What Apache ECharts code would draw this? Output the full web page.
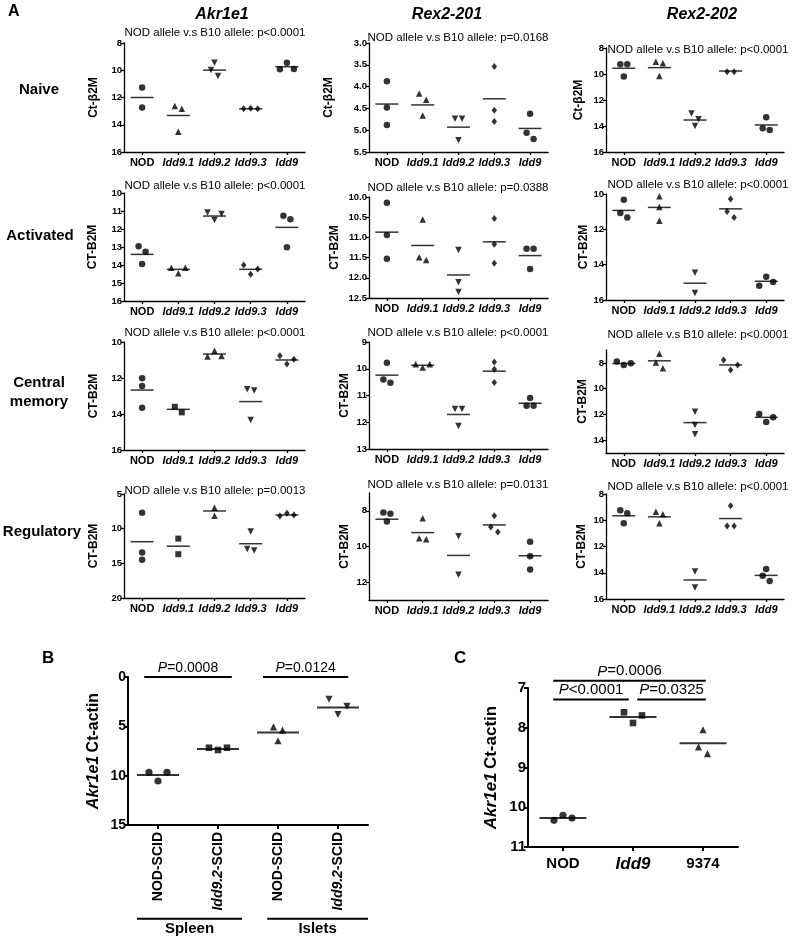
<!DOCTYPE html>
<html><head><meta charset="utf-8">
<script src="https://cdn.jsdelivr.net/npm/echarts@6/dist/echarts.min.js"></script>
<style>html,body{margin:0;padding:0;background:#fff}#c{width:793px;height:937px}</style>
</head><body><div id="c"></div><script>
const FF = '"Liberation Sans", Arial, Helvetica, sans-serif';

// ---------- categories ----------
const groupsA = ['NOD', 'Idd9.1', 'Idd9.2', 'Idd9.3', 'Idd9'];
const genesA = ['Akr1e1', 'Rex2-201', 'Rex2-202'];
const cellTypesA = ['Naive', 'Activated', 'Central\nmemory', 'Regulatory'];
const groupsB = ['NOD-SCID', 'Idd9.2-SCID', 'NOD-SCID', 'Idd9.2-SCID'];
const tissuesB = ['Spleen', 'Islets'];
const groupsC = ['NOD', 'Idd9', '9374'];

// ---------- Panel A values (Ct - B2M), one array per group ----------
const akr1e1_naive = [[11.26, 12.73], [12.63, 12.83, 14.52], [9.45, 9.99, 10.43], [12.78, 12.82, 12.82], [9.45, 9.9, 9.92]];
const akr1e1_naive_mean = [12.0, 13.32, 9.99, 12.83, 9.74];
const rex201_naive = [[3.88, 4.48, 4.88], [4.16, 4.30, 4.66], [4.74, 4.74, 5.23], [3.54, 4.54, 4.80], [4.62, 5.06, 5.20]];
const rex201_naive_mean = [4.40, 4.42, 4.93, 4.28, 4.96];
const rex202_naive = [[9.25, 9.25, 10.2], [9.05, 9.18, 10.15], [13.03, 13.49, 14.0], [9.82, 9.82], [13.33, 14.18, 14.31]];
const rex202_naive_mean = [9.56, 9.51, 13.54, 9.77, 13.92];

const akr1e1_act = [[12.96, 13.26, 13.94], [14.15, 14.15, 14.46], [11.09, 11.17, 11.5], [14.0, 14.22, 14.52], [11.26, 11.46, 13.02]];
const akr1e1_act_mean = [13.41, 14.24, 11.28, 14.24, 11.91];
const rex201_act = [[10.14, 10.94, 11.53], [10.56, 11.49, 11.56], [11.31, 12.11, 12.35], [10.53, 11.17, 11.64], [11.28, 11.28, 11.78]];
const rex201_act_mean = [10.87, 11.2, 11.93, 11.11, 11.45];
const rex202_act = [[10.32, 11.08, 11.33], [10.13, 10.74, 11.52], [14.46, 15.6], [10.28, 10.99, 11.33], [14.69, 14.98, 15.2]];
const rex202_act_mean = [10.93, 10.76, 15.05, 10.84, 14.94];

const akr1e1_cm = [[12.02, 12.44, 13.65], [13.6, 13.91], [10.48, 10.78, 10.81], [12.63, 12.7, 14.33], [10.76, 10.96, 11.22]];
const akr1e1_cm_mean = [12.67, 13.74, 10.67, 13.31, 11.0];
const rex201_cm = [[9.78, 10.4, 10.52], [9.83, 9.83, 9.95], [11.5, 11.5, 12.14], [9.75, 10.02, 10.51], [11.09, 11.38, 11.38]];
const rex201_cm_mean = [10.24, 9.87, 11.71, 10.09, 11.29];
const rex202_cm = [[7.9, 8.03, 8.16], [7.3, 7.98, 8.41], [11.79, 12.82, 13.55], [7.77, 8.16, 8.55], [11.97, 12.23, 12.6]];
const rex202_cm_mean = [8.05, 7.84, 12.64, 8.16, 12.23];

const akr1e1_reg = [[7.69, 13.45, 14.5], [11.43, 13.68], [6.97, 8.12], [10.42, 12.95, 13.15], [7.77, 8.02, 8.16]];
const akr1e1_reg_mean = [11.88, 12.53, 7.45, 12.17, 8.02];
const rex201_reg = [[8.09, 8.17, 8.6], [8.41, 9.54, 9.6], [9.42, 11.58], [8.28, 8.9, 9.18], [9.73, 10.54, 11.29]];
const rex201_reg_mean = [8.47, 9.22, 10.5, 8.79, 10.52];
const rex202_reg = [[9.23, 9.46, 10.23], [9.36, 9.54, 10.23], [13.9, 15.13], [8.9, 10.44, 10.44], [13.72, 14.23, 14.62]];
const rex202_reg_mean = [9.66, 9.74, 14.55, 9.87, 14.2];

// p-values (row-major)
const pValuesA = ['p<0.0001', 'p=0.0168', 'p<0.0001',
                  'p<0.0001', 'p=0.0388', 'p<0.0001',
                  'p<0.0001', 'p<0.0001', 'p<0.0001',
                  'p=0.0013', 'p=0.0131', 'p<0.0001'];

// tick labels
const akr1e1_naive_ticks = [8, 10, 12, 14, 16];
const rex201_naive_ticks = [3.0, 3.5, 4.0, 4.5, 5.0, 5.5];
const rex202_naive_ticks = [8, 10, 12, 14, 16];
const akr1e1_act_ticks = [10, 11, 12, 13, 14, 15, 16];
const rex201_act_ticks = [10.0, 10.5, 11.0, 11.5, 12.0, 12.5];
const rex202_act_ticks = [10, 12, 14, 16];
const akr1e1_cm_ticks = [10, 12, 14, 16];
const rex201_cm_ticks = [9, 10, 11, 12, 13];
const rex202_cm_ticks = [8, 10, 12, 14];
const akr1e1_reg_ticks = [5, 10, 15, 20];
const rex201_reg_ticks = [8, 10, 12];
const rex202_reg_ticks = [8, 10, 12, 14, 16];

// ---------- Panel B (Akr1e1 Ct-actin) ----------
const valuesB = [[9.66, 9.66, 10.54], [7.17, 7.4, 7.17], [5.05, 5.38, 6.46], [2.25, 2.96, 3.8]];
const meansB = [9.93, 7.3, 5.62, 3.09];
const ticksB = [0, 5, 10, 15];
const pValuesB = ['=0.0008', '=0.0124'];

// ---------- Panel C (Akr1e1 Ct-actin) ----------
const valuesC = [[10.2, 10.33, 10.27], [7.88, 7.61, 7.69], [8.05, 8.65, 8.48]];
const meansC = [10.27, 7.73, 8.39];
const ticksC = [7, 8, 9, 10, 11];
const pValuesC = ['=0.0006', '<0.0001', '=0.0325'];

// ================= layout / styling =================
const SYM = {
  circle: {symbol: 'circle', size: 6.5, rot: 0},
  tri: {symbol: 'triangle', size: 6.5, rot: 0},
  inv: {symbol: 'triangle', size: 6.5, rot: 180},
  dia: {symbol: 'diamond', size: [5.5, 7], rot: 0},
  sq: {symbol: 'rect', size: 6, rot: 0}
};
const symStd = ['circle', 'tri', 'inv', 'dia', 'circle'];
const symAlt = ['circle', 'sq', 'tri', 'inv', 'dia'];

const COLS = [{left: 124, width: 181, titleX: 215}, {left: 369, width: 179, titleX: 458}, {left: 606, width: 178, titleX: 698}];
const A_PLOTS = [
  {vals: akr1e1_naive, means: akr1e1_naive_mean, ticks: akr1e1_naive_ticks, min: 8, max: 16, top: 43, bottom: 152, col: 0, titleY: 33, gap: 24, yname: 'Ct-β2M', sym: symStd},
  {vals: rex201_naive, means: rex201_naive_mean, ticks: rex201_naive_ticks, min: 3, max: 5.5, top: 43, bottom: 152, col: 1, titleY: 38, gap: 34, yname: 'Ct-β2M', sym: symStd, dec: 1},
  {vals: rex202_naive, means: rex202_naive_mean, ticks: rex202_naive_ticks, min: 8, max: 16, top: 48, bottom: 152, col: 2, titleY: 50, gap: 21, yname: 'Ct-β2M', sym: symStd},
  {vals: akr1e1_act, means: akr1e1_act_mean, ticks: akr1e1_act_ticks, min: 10, max: 16, top: 193, bottom: 301, col: 0, titleY: 186, gap: 25, yname: 'CT-B2M', sym: symStd},
  {vals: rex201_act, means: rex201_act_mean, ticks: rex201_act_ticks, min: 10, max: 12.5, top: 197, bottom: 298, col: 1, titleY: 188, gap: 28, yname: 'CT-B2M', sym: symStd, dec: 1},
  {vals: rex202_act, means: rex202_act_mean, ticks: rex202_act_ticks, min: 10, max: 16, top: 194, bottom: 300, col: 2, titleY: 185, gap: 15, yname: 'CT-B2M', sym: symStd},
  {vals: akr1e1_cm, means: akr1e1_cm_mean, ticks: akr1e1_cm_ticks, min: 10, max: 16, top: 342, bottom: 450, col: 0, titleY: 333, gap: 24, yname: 'CT-B2M', sym: symAlt},
  {vals: rex201_cm, means: rex201_cm_mean, ticks: rex201_cm_ticks, min: 9, max: 13, top: 342, bottom: 449, col: 1, titleY: 333, gap: 18, yname: 'CT-B2M', sym: symStd},
  {vals: rex202_cm, means: rex202_cm_mean, ticks: rex202_cm_ticks, min: 7, max: 15, top: 350, bottom: 453, col: 2, titleY: 335, gap: 17, yname: 'CT-B2M', sym: symStd},
  {vals: akr1e1_reg, means: akr1e1_reg_mean, ticks: akr1e1_reg_ticks, min: 5, max: 20, top: 494, bottom: 598, col: 0, titleY: 491, gap: 24, yname: 'CT-B2M', sym: symAlt},
  {vals: rex201_reg, means: rex201_reg_mean, ticks: rex201_reg_ticks, min: 7, max: 13, top: 493, bottom: 600, col: 1, titleY: 485, gap: 18, yname: 'CT-B2M', sym: symStd},
  {vals: rex202_reg, means: rex202_reg_mean, ticks: rex202_reg_ticks, min: 8, max: 16, top: 494, bottom: 599, col: 2, titleY: 487, gap: 18, yname: 'CT-B2M', sym: symStd}
];

const grids = [], xAxes = [], yAxes = [], series = [], graphics = [];

function swarm(vals, pxPerUnit, T, step) {
  const idx = vals.map((v, i) => i).sort((a, b) => vals[a] - vals[b]);
  const clusters = [];
  let cur = [idx[0]];
  for (let k = 1; k < idx.length; k++) {
    if ((vals[idx[k]] - vals[idx[k - 1]]) * pxPerUnit < T) cur.push(idx[k]);
    else { clusters.push(cur); cur = [idx[k]]; }
  }
  clusters.push(cur);
  const off = new Array(vals.length).fill(0);
  clusters.forEach(c => {
    if (c.length === 2) { off[c[0]] = -step / 2; off[c[1]] = step / 2; }
    else if (c.length === 3) {
      const a = vals[c[0]], b = vals[c[1]], d = vals[c[2]];
      if (b - a <= d - b) { off[c[0]] = -step; off[c[1]] = step; off[c[2]] = 0; }
      else { off[c[0]] = 0; off[c[1]] = step; off[c[2]] = -step; }
    } else if (c.length > 3) {
      c.forEach((i, j) => off[i] = (j - (c.length - 1) / 2) * step);
    }
  });
  return off;
}

function addPlot(o) {
  const gi = grids.length;
  const n = o.cats.length;
  const idxs = o.cats.map((_, i) => i);
  grids.push({left: o.left, top: o.top, width: o.width, height: o.bottom - o.top, containLabel: false});
  xAxes.push({
    gridIndex: gi, type: 'value', min: -0.5, max: n - 0.5,
    splitLine: {show: false},
    axisLine: {show: true, onZero: false, lineStyle: {color: '#000', width: o.lw}},
    axisTick: {show: true, customValues: idxs, length: o.tickLen, lineStyle: {color: '#000', width: o.lw}},
    axisLabel: {customValues: idxs, formatter: v => o.catFmt(o.cats[Math.round(v)]), rich: o.rich,
      margin: o.xMargin, rotate: o.xRot || 0, color: '#000'}
  });
  yAxes.push({
    gridIndex: gi, type: 'value', inverse: true, min: o.min, max: o.max,
    splitLine: {show: false},
    axisLine: {show: true, onZero: false, lineStyle: {color: '#000', width: o.lw}},
    axisTick: {show: true, customValues: o.ticks, length: o.tickLen, lineStyle: {color: '#000', width: o.lw}},
    axisLabel: {customValues: o.ticks, formatter: v => o.dec ? v.toFixed(o.dec) : String(v),
      color: '#000', fontWeight: 'bold', fontSize: o.tickFont, fontFamily: FF, margin: 2},
    name: o.yname, nameLocation: 'middle', nameRotate: 90, nameGap: o.gap,
    nameTextStyle: o.nameStyle
  });
  const pxPerUnit = (o.bottom - o.top) / (o.max - o.min);
  const bandPx = o.width / n;
  o.vals.forEach((vals, k) => {
    const off = swarm(vals, pxPerUnit, o.T, o.step);
    const s = SYM[o.sym[k]];
    const size = Array.isArray(s.size) ? s.size.map(z => z * o.scale) : s.size * o.scale;
    series.push({type: 'scatter', xAxisIndex: gi, yAxisIndex: gi, symbol: s.symbol, symbolSize: size,
      symbolRotate: s.rot, itemStyle: {color: '#000'}, silent: true, z: 3,
      data: vals.map((v, i) => [k + off[i] / bandPx, v])});
  });
  series.push({type: 'scatter', xAxisIndex: gi, yAxisIndex: gi, symbol: 'rect', symbolSize: [o.meanW, o.meanH],
    itemStyle: {color: '#000'}, silent: true, z: 2, data: o.means.map((m, k) => [k, m])});
  return gi;
}

const richA = {
  n: {fontWeight: 'bold', fontSize: 11, fontFamily: FF, color: '#000'},
  i: {fontWeight: 'bold', fontStyle: 'italic', fontSize: 11, fontFamily: FF, color: '#000'}
};
A_PLOTS.forEach((p, j) => {
  const c = COLS[p.col];
  addPlot({
    vals: p.vals, means: p.means, ticks: p.ticks, min: p.min, max: p.max, dec: p.dec,
    left: c.left, width: c.width, top: p.top, bottom: p.bottom, cats: groupsA,
    catFmt: g => g === 'NOD' ? '{n|NOD}' : '{i|' + g + '}', rich: richA,
    lw: 1.3, tickLen: 3, xMargin: 5, tickFont: 9.5, yname: p.yname, gap: p.gap,
    nameStyle: {fontWeight: 'bold', fontSize: 12, fontFamily: FF, color: '#000'},
    sym: p.sym, scale: 1, T: 6.2, step: 7, meanW: 23, meanH: 1.5
  });
  graphics.push(txt('NOD allele v.s B10 allele: ' + pValuesA[j], c.titleX, p.titleY, '11.5px ' + FF));
});

// ---- Panel B ----
const gB = addPlot({
  vals: valuesB, means: meansB, ticks: ticksB, min: 0, max: 15,
  left: 128, width: 240, top: 677, bottom: 825, cats: groupsB,
  catFmt: g => g.startsWith('Idd') ? '{i|Idd9.2}{n|-SCID}' : '{n|' + g + '}',
  rich: {n: {fontWeight: 'bold', fontSize: 14, fontFamily: FF, color: '#000'},
         i: {fontWeight: 'bold', fontStyle: 'italic', fontSize: 14, fontFamily: FF, color: '#000'}},
  lw: 2, tickLen: 4, xMargin: 7, xRot: 90, tickFont: 14, yname: '{i|Akr1e1} {n|Ct-actin}', gap: 26,
  nameStyle: {rich: {n: {fontWeight: 'bold', fontSize: 16, fontFamily: FF, color: '#000'},
                     i: {fontWeight: 'bold', fontStyle: 'italic', fontSize: 16, fontFamily: FF, color: '#000'}}},
  sym: ['circle', 'sq', 'tri', 'inv'], scale: 1.1, T: 9.5, step: 9, meanW: 42, meanH: 2
});

// ---- Panel C ----
const gC = addPlot({
  vals: valuesC, means: meansC, ticks: ticksC, min: 7, max: 11,
  left: 528, width: 210, top: 688, bottom: 847, cats: groupsC,
  catFmt: g => g === 'Idd9' ? '{i|Idd9}' : '{n|' + g + '}',
  rich: {n: {fontWeight: 'bold', fontSize: 15, fontFamily: FF, color: '#000'},
         i: {fontWeight: 'bold', fontStyle: 'italic', fontSize: 17, fontFamily: FF, color: '#000'}},
  lw: 2, tickLen: 4, xMargin: 9, tickFont: 15, yname: '{i|Akr1e1} {n|Ct-actin}', gap: 28,
  nameStyle: {rich: {n: {fontWeight: 'bold', fontSize: 17, fontFamily: FF, color: '#000'},
                     i: {fontWeight: 'bold', fontStyle: 'italic', fontSize: 17, fontFamily: FF, color: '#000'}}},
  sym: ['circle', 'sq', 'tri'], scale: 1.1, T: 9.5, step: 9, meanW: 47, meanH: 2
});

// ---- annotation series (significance bars and group brackets), placed through the axes ----
function annotSeries(gi, items) {
  return {
    type: 'custom', xAxisIndex: gi, yAxisIndex: gi, silent: true, clip: false, z: 4,
    encode: {x: [0, 1], y: 2},
    data: items.map(it => [it.x1, it.x2, it.y]),
    renderItem: (params, api) => {
      const it = items[params.dataIndex];
      const p1 = api.coord([api.value(0), api.value(2)]);
      const p2 = api.coord([api.value(1), api.value(2)]);
      const below = !!it.below;
      return {type: 'group', children: [
        {type: 'line', shape: {x1: p1[0], y1: p1[1], x2: p2[0], y2: p2[1]}, style: {stroke: '#000', lineWidth: it.lw || 2}},
        {type: 'text', x: (p1[0] + p2[0]) / 2, y: below ? p1[1] + 3 : p1[1] - 2,
          style: {text: it.text, rich: it.rich, fontSize: it.fs, fontFamily: FF, fontWeight: it.fw || 'normal', fill: '#000',
            align: 'center', textAlign: 'center', verticalAlign: below ? 'top' : 'bottom', textVerticalAlign: below ? 'top' : 'bottom'}}
      ]};
    }
  };
}
const richP = (fs) => ({i: {fontStyle: 'italic', fontSize: fs, fontFamily: FF, fill: '#000', color: '#000'},
                        n: {fontSize: fs, fontFamily: FF, fill: '#000', color: '#000'}});
series.push(annotSeries(gB, [
  {x1: -0.23, x2: 1.23, y: 0, text: '{i|P}{n|' + pValuesB[0] + '}', rich: richP(14), fs: 14},
  {x1: 1.75, x2: 3.17, y: 0, text: '{i|P}{n|' + pValuesB[1] + '}', rich: richP(14), fs: 14},
  {x1: -0.35, x2: 1.4, y: 24.5, text: tissuesB[0], fs: 15, fw: 'bold', below: true},
  {x1: 1.82, x2: 3.5, y: 24.5, text: tissuesB[1], fs: 15, fw: 'bold', below: true}
]));
series.push(annotSeries(gC, [
  {x1: -0.14, x2: 2.04, y: 6.82, text: '{i|P}{n|' + pValuesC[0] + '}', rich: richP(15), fs: 15},
  {x1: -0.14, x2: 0.94, y: 7.29, text: '{i|P}{n|' + pValuesC[1] + '}', rich: richP(15), fs: 15},
  {x1: 1.06, x2: 2.04, y: 7.29, text: '{i|P}{n|' + pValuesC[2] + '}', rich: richP(15), fs: 15}
]));

// ---------- free text ----------
function txt(text, x, y, font, align, extra) {
  align = align || 'center';
  return {type: 'text', x: x, y: y, silent: true,
    style: Object.assign({text: text, font: font, fill: '#000', align: align, verticalAlign: 'middle',
      textAlign: align, textVerticalAlign: 'middle'}, extra || {})};
}
graphics.push(txt('A', 8, 12, 'bold 16px ' + FF, 'left'));
graphics.push(txt('B', 42, 658, 'bold 17px ' + FF, 'left'));
graphics.push(txt('C', 454, 658, 'bold 17px ' + FF, 'left'));
[222, 447, 702].forEach((x, i) => graphics.push(txt(genesA[i], x, 15, 'italic bold 16px ' + FF)));
[[39, 90], [40, 236], [39, 392], [42, 532]].forEach((p, i) =>
  graphics.push(txt(cellTypesA[i], p[0], p[1], 'bold 15px ' + FF, 'center', {lineHeight: 19})));

const chart = echarts.init(document.getElementById('c'), null, {renderer: 'canvas'});
chart.setOption({
  backgroundColor: '#fff',
  animation: false,
  textStyle: {fontFamily: FF},
  grid: grids, xAxis: xAxes, yAxis: yAxes, series: series, graphic: graphics
});
</script></body></html>
